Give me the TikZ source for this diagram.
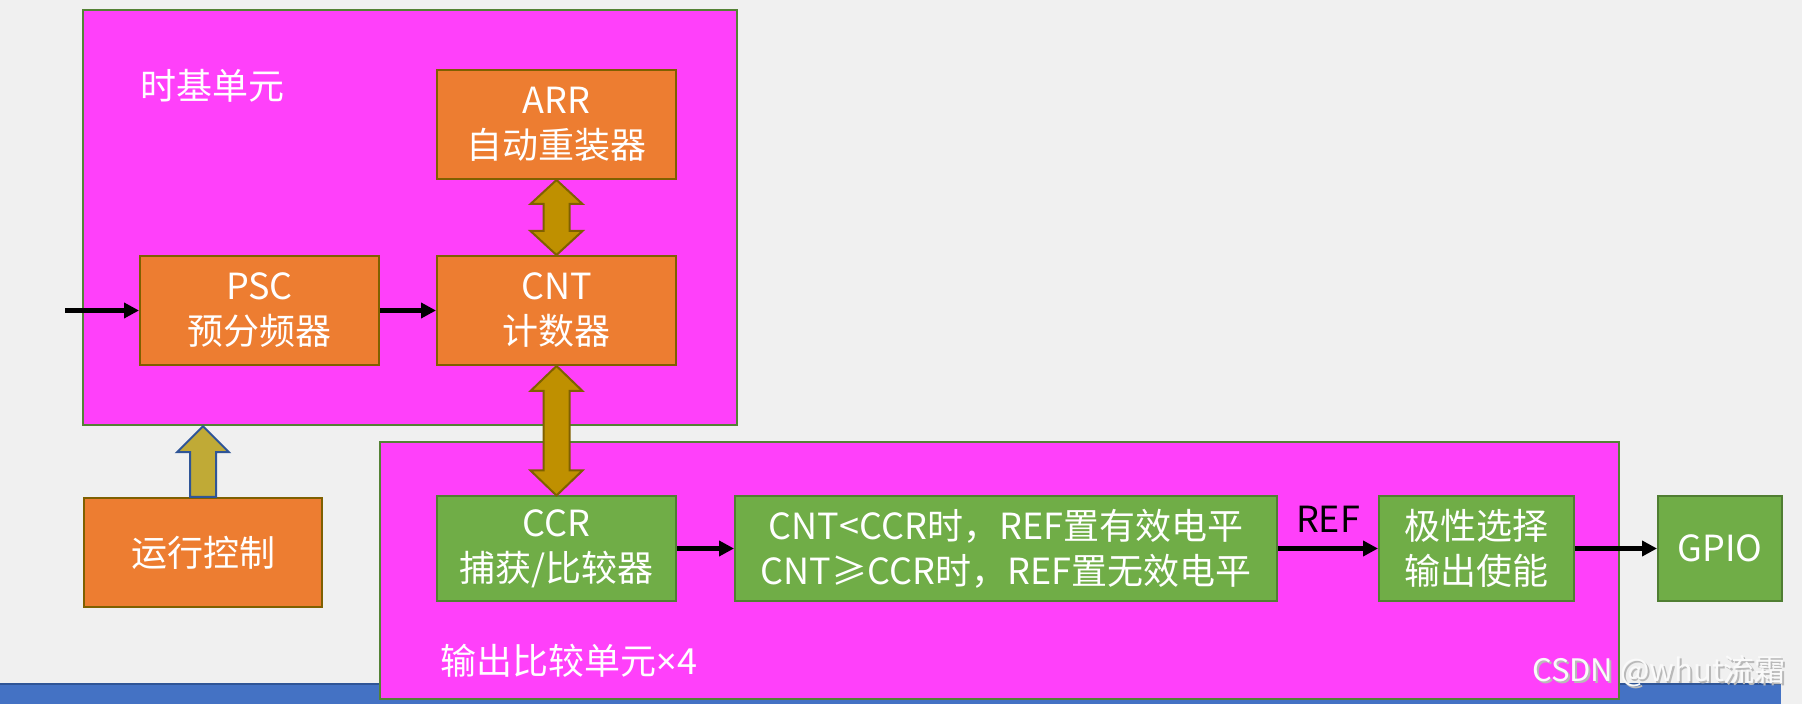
\documentclass[tikz,border=0pt]{standalone}
\usepackage{fontspec}
\setmainfont{Noto Sans CJK SC}
\newfontfamily\latinfont{Noto Sans}
\usetikzlibrary{arrows.meta,calc}
\definecolor{bgc}{HTML}{F0F0F0}
\definecolor{magc}{HTML}{FF40FA}
\definecolor{magb}{HTML}{548235}
\definecolor{orgc}{HTML}{ED7D31}
\definecolor{orgb}{HTML}{7F6000}
\definecolor{grnc}{HTML}{70AD47}
\definecolor{grnb}{HTML}{507E32}
\definecolor{goldc}{HTML}{BF9000}
\definecolor{goldb}{HTML}{7F6000}
\definecolor{olivec}{HTML}{C0AA36}
\definecolor{blueb}{HTML}{2F5597}
\definecolor{barc}{HTML}{4472C4}
\begin{document}
\begin{tikzpicture}[x=0.5pt,y=-0.5pt,
  txt/.style={font=\fontsize{18pt}{22.5pt}\selectfont, align=center, inner sep=0pt},
  obox/.style={txt, fill=orgc, draw=orgb, line width=1pt, text=white},
  gbox/.style={txt, fill=grnc, draw=grnb, line width=1pt, text=white},
  unitbox/.style={fill=magc, draw=magb, line width=1.2pt, inner sep=0pt},
  goldarrow/.style={fill=goldc, draw=goldb, line width=1pt, line join=miter},
  upblock/.style={fill=olivec, draw=blueb, line width=1pt, line join=miter},
  blk/.style={-{Triangle[length=7.5pt,width=7.5pt]}, line width=2.3pt, black},
  lbl/.style={txt, text=white},
  wmark/.style={inner sep=0pt, font=\fontsize{15.5pt}{18pt}\selectfont}]
\useasboundingbox (0,0) rectangle (1802,704);
\fill[bgc] (0,0) rectangle (1802,704);
% bottom bar
\fill[barc] (0,684) rectangle (1781,704);
\draw[blueb, line width=1pt] (0,684) -- (1781,684);
% unit frames
\node[unitbox, minimum width=327pt, minimum height=207.5pt] (tb) at (410,217.5) {};
\node[unitbox, minimum width=619.5pt, minimum height=128.5pt] (lb) at (999.5,570.5) {};
% labels of frames
\node[lbl] (tblabel) at (212,86) {时基单元};
\node[lbl] (lblabel) at (569,661) {输出比较单元{\latinfont ×}4};
% orange boxes
\node[obox, minimum width=119.5pt, minimum height=54.5pt] (arr) at (556.5,124.5) {ARR\\自动重装器};
\node[obox, minimum width=119.5pt, minimum height=54.5pt] (cnt) at (556.5,310.5) {CNT\\计数器};
\node[obox, minimum width=119.5pt, minimum height=54.5pt] (psc) at (259.5,310.5) {PSC\\预分频器};
\node[obox, minimum width=119pt, minimum height=54.5pt] (run) at (203,552.5) {运行控制};
% green boxes
\node[gbox, minimum width=119.5pt, minimum height=52pt] (ccr) at (556.5,548.5) {CCR\\捕获/比较器};
\node[gbox, minimum width=271pt, minimum height=52pt] (cond) at (1006,548.5) {CNT<CCR时，REF置有效电平\\CNT≥CCR时，REF置无效电平};
\node[gbox, minimum width=97.5pt, minimum height=52pt] (pol) at (1476.5,548.5) {极性选择\\输出使能};
\node[gbox, minimum width=62pt, minimum height=52pt] (gpio) at (1720,548.5) {GPIO};
% black arrows
\coordinate (in) at (65,310.5);
\draw[blk] (in) -- (psc.west);
\draw[blk] (psc.east) -- (cnt.west);
\draw[blk] (ccr.east) -- (cond.west);
\draw[blk] (cond.east) -- node[above=7pt, txt, text=black] (ref) {REF} (pol.west);
\draw[blk] (pol.east) -- (gpio.west);
% gold double arrows
\path[goldarrow] (arr.south) -- ++(26,24) -- ++(-13,0) -- ($(cnt.north)+(13,-24)$) -- ++(13,0) -- (cnt.north)
  -- ++(-26,-24) -- ++(13,0) -- ($(arr.south)+(-13,24)$) -- ++(-13,0) -- cycle;
\path[goldarrow] (cnt.south) -- ++(26,25) -- ++(-13,0) -- ($(ccr.north)+(13,-25)$) -- ++(13,0) -- (ccr.north)
  -- ++(-26,-25) -- ++(13,0) -- ($(cnt.south)+(-13,25)$) -- ++(-13,0) -- cycle;
% up arrow from run control
\coordinate (tip) at (run.north |- tb.south);
\path[upblock] ($(run.north)+(-13,0)$) -- ($(run.north)+(13,0)$) -- ($(tip)+(13,26)$) -- ($(tip)+(26,26)$)
  -- (tip) -- ($(tip)+(-26,26)$) -- ($(tip)+(-13,26)$) -- cycle;
% watermark
\node[wmark, text=gray!55] (wmshadow) at (1661,673) {CSDN @whut流霜};
\node[wmark, text=white!96!gray] (wm) at (1659,671) {CSDN @whut流霜};
\end{tikzpicture}
\end{document}
